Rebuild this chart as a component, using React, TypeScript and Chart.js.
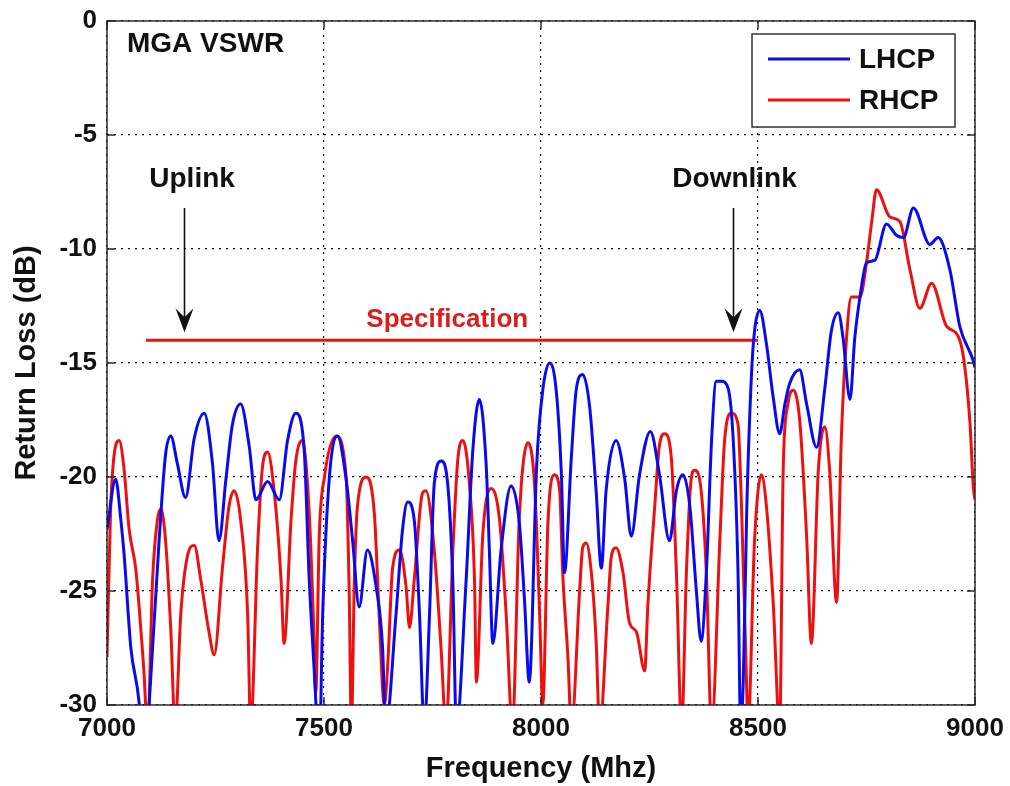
import React, { useEffect, useRef } from "react";
import { Chart, registerables } from "chart.js";

Chart.register(...registerables);

// ---- Data ----
const freqLHCP = [
  7000, 7020, 7032, 7039, 7055, 7074, 7085, 7097, 7120, 7135, 7147, 7162, 7181, 7201, 7224, 7243,
  7258, 7274, 7289, 7308, 7328, 7343, 7370, 7397, 7416, 7435, 7454, 7466, 7481, 7488, 7497, 7512,
  7531, 7551, 7566, 7581, 7600, 7620, 7635, 7642, 7666, 7681, 7693, 7708, 7720, 7731, 7743, 7754,
  7770, 7785, 7797, 7805, 7827, 7843, 7858, 7874, 7881, 7889, 7908, 7931, 7950, 7962, 7973, 7990,
  8004, 8020, 8035, 8047, 8054, 8070, 8081, 8096, 8112, 8127, 8139, 8150, 8173, 8193, 8208, 8227,
  8252, 8273, 8296, 8312, 8327, 8343, 8358, 8369, 8381, 8393, 8404, 8416, 8431, 8443, 8454, 8460,
  8466, 8474, 8485, 8492, 8504, 8519, 8535, 8550, 8562, 8573, 8596, 8612, 8635, 8654, 8669, 8685,
  8696, 8712, 8723, 8735, 8750, 8769, 8796, 8819, 8835, 8858, 8896, 8915, 8942, 8965, 8996, 9000,
];
const rlLHCP = [
  -22.3, -20.1, -21.9, -23.3, -27.5, -29.9, -33.0, -30.0, -22.8, -19.0, -18.2, -19.4, -20.9, -18.3, -17.2, -19.4,
  -22.8, -20.1, -17.7, -16.8, -18.7, -21.0, -20.2, -21.0, -18.4, -17.2, -18.7, -24.5, -29.8, -33.0, -26.0, -20.1,
  -18.2, -20.1, -22.8, -25.7, -23.2, -24.8, -27.5, -31.0, -26.0, -22.3, -21.1, -21.9, -26.0, -31.0, -26.1, -20.3,
  -19.3, -20.3, -24.7, -31.0, -24.7, -18.8, -16.6, -19.6, -23.2, -27.3, -23.2, -20.4, -22.0, -25.4, -29.0, -19.5,
  -16.2, -15.0, -16.2, -19.9, -24.2, -19.1, -16.2, -15.5, -16.9, -20.6, -24.0, -20.6, -18.4, -20.1, -22.6, -19.9,
  -18.0, -19.9, -22.8, -20.6, -19.9, -21.3, -25.0, -27.2, -24.2, -18.4, -15.8, -15.8, -16.1, -18.4, -24.2, -31.0,
  -29.0, -21.5, -15.5, -13.6, -12.7, -14.1, -16.5, -18.1, -16.8, -15.9, -15.3, -16.8, -18.7, -16.1, -13.6, -12.8,
  -13.9, -16.6, -13.9, -12.1, -10.6, -10.5, -8.9, -9.4, -9.5, -8.2, -9.8, -9.5, -10.9, -13.4, -14.9, -15.2,
];
const freqRHCP = [
  7000, 7008, 7016, 7028, 7039, 7051, 7066, 7078, 7089, 7092, 7105, 7116, 7124, 7135, 7147, 7157,
  7170, 7185, 7201, 7216, 7235, 7247, 7266, 7281, 7293, 7308, 7324, 7331, 7347, 7358, 7370, 7385,
  7401, 7408, 7424, 7435, 7450, 7466, 7477, 7481, 7489, 7501, 7528, 7551, 7558, 7563, 7570, 7577,
  7597, 7616, 7627, 7639, 7647, 7658, 7674, 7689, 7697, 7708, 7727, 7735, 7754, 7770, 7781, 7797,
  7808, 7820, 7835, 7847, 7851, 7866, 7885, 7904, 7920, 7934, 7950, 7970, 7985, 7997, 8004, 8016,
  8031, 8043, 8050, 8062, 8070, 8089, 8096, 8104, 8116, 8127, 8135, 8154, 8162, 8173, 8189, 8204,
  8220, 8239, 8246, 8262, 8273, 8285, 8300, 8312, 8324, 8335, 8346, 8354, 8369, 8381, 8393, 8412,
  8423, 8439, 8454, 8462, 8473, 8477, 8492, 8508, 8519, 8535, 8550, 8558, 8569, 8581, 8596, 8612,
  8623, 8639, 8654, 8665, 8681, 8692, 8704, 8715, 8735, 8750, 8762, 8773, 8804, 8827, 8850, 8873,
  8900, 8935, 8965, 8988, 8996, 9000,
];
const rlRHCP = [
  -27.9, -21.6, -19.1, -18.4, -19.6, -22.3, -24.0, -26.7, -30.0, -32.0, -24.5, -21.9, -21.4, -22.8, -26.7, -31.0,
  -26.0, -23.5, -23.0, -24.5, -26.8, -27.8, -24.0, -21.3, -20.6, -21.9, -26.0, -31.0, -23.1, -19.6, -18.9, -20.6,
  -24.5, -27.3, -21.9, -19.3, -18.4, -21.6, -27.0, -29.5, -22.6, -20.0, -18.2, -20.0, -25.0, -31.0, -24.5, -21.3,
  -20.0, -21.6, -26.0, -30.0, -28.2, -24.0, -23.2, -24.8, -26.6, -24.5, -20.7, -20.6, -23.2, -27.6, -31.0, -23.2,
  -19.3, -18.4, -20.3, -24.7, -29.0, -22.5, -20.5, -21.8, -26.1, -31.0, -21.8, -18.5, -20.3, -26.1, -30.0, -22.0,
  -19.9, -20.6, -24.2, -27.9, -31.0, -25.0, -23.1, -22.9, -24.2, -27.2, -31.0, -25.7, -23.5, -23.1, -24.2, -26.4,
  -26.8, -28.5, -25.7, -21.3, -18.6, -18.1, -19.1, -24.2, -31.0, -24.2, -20.1, -19.7, -20.6, -24.2, -31.0, -22.8,
  -18.4, -17.2, -17.7, -21.3, -28.6, -31.0, -22.8, -19.9, -21.2, -25.5, -31.0, -19.7, -16.8, -16.2, -17.5, -22.6,
  -27.3, -19.7, -17.8, -19.7, -25.5, -18.3, -13.9, -12.1, -12.1, -10.6, -8.8, -7.4, -8.6, -8.8, -10.9, -12.6,
  -11.5, -13.4, -14.0, -17.5, -20.4, -21.0,
];
const specFreq = [7090, 8500];
const specLevel = [-14, -14];
const xTicks = [7000, 7500, 8000, 8500, 9000];
const yTicks = [0, -5, -10, -15, -20, -25, -30];
const seriesNames = ["LHCP", "RHCP"];
const seriesColors = ["#0a0aee", "#ee1010"];
const bandLabels = ["Uplink", "Downlink"];
const bandArrowFreq = [7178, 8442];
const bandLabelFreq = [7196, 8446];
const chartTitle = "MGA VSWR";
const specLabel = "Specification";
const specLabelFreq = 7784;

const FONT = '"Liberation Sans", Arial, sans-serif';

const decorPlugin = {
  id: "matlabDecor",
  afterDraw(chart: any) {
    const { ctx, chartArea: a, scales } = chart;
    const x = scales.x;
    const y = scales.y;
    ctx.save();
    ctx.setLineDash([]);
    // frame
    ctx.strokeStyle = "#2a2a2a";
    ctx.lineWidth = 1.5;
    ctx.strokeRect(a.left, a.top, a.right - a.left, a.bottom - a.top);
    // inward ticks
    ctx.beginPath();
    xTicks.forEach((v) => {
      const px = x.getPixelForValue(v);
      ctx.moveTo(px, a.bottom);
      ctx.lineTo(px, a.bottom - 8);
      ctx.moveTo(px, a.top);
      ctx.lineTo(px, a.top + 8);
    });
    yTicks.forEach((v) => {
      const py = y.getPixelForValue(v);
      ctx.moveTo(a.left, py);
      ctx.lineTo(a.left + 8, py);
      ctx.moveTo(a.right, py);
      ctx.lineTo(a.right - 8, py);
    });
    ctx.stroke();

    // title text
    ctx.fillStyle = "#111";
    ctx.font = `bold 28px ${FONT}`;
    ctx.textAlign = "left";
    ctx.textBaseline = "alphabetic";
    ctx.fillText(chartTitle, a.left + 20, a.top + 31);

    // band labels + arrows
    const yTopArrow = y.getPixelForValue(-8.2);
    const yTip = y.getPixelForValue(-13.65);
    const yText = y.getPixelForValue(-7.3);
    bandLabels.forEach((lab, i) => {
      const tx = x.getPixelForValue(bandLabelFreq[i]);
      ctx.textAlign = "center";
      ctx.fillStyle = "#111";
      ctx.font = `bold 28px ${FONT}`;
      ctx.fillText(lab, tx, yText);
      const ax = Math.round(x.getPixelForValue(bandArrowFreq[i])) + 0.5;
      ctx.strokeStyle = "#111";
      ctx.lineWidth = 1.6;
      ctx.beginPath();
      ctx.moveTo(ax, yTopArrow);
      ctx.lineTo(ax, yTip - 12);
      ctx.stroke();
      ctx.beginPath();
      ctx.moveTo(ax, yTip);
      ctx.lineTo(ax - 9, yTip - 24);
      ctx.lineTo(ax, yTip - 15);
      ctx.lineTo(ax + 9, yTip - 24);
      ctx.closePath();
      ctx.fill();
    });

    // specification label
    ctx.fillStyle = "#dd1c1c";
    ctx.font = `bold 26px ${FONT}`;
    ctx.textAlign = "center";
    ctx.fillText(specLabel, x.getPixelForValue(specLabelFreq), y.getPixelForValue(specLevel[0]) - 13);

    // legend
    const lw = 203;
    const lh = 93;
    const lx = a.right - 223;
    const ly = a.top + 13;
    ctx.fillStyle = "#fff";
    ctx.fillRect(lx, ly, lw, lh);
    ctx.strokeStyle = "#333";
    ctx.lineWidth = 1.5;
    ctx.strokeRect(lx, ly, lw, lh);
    seriesNames.forEach((name, i) => {
      const yy = ly + 25 + i * 41;
      ctx.strokeStyle = seriesColors[i];
      ctx.lineWidth = 3;
      ctx.beginPath();
      ctx.moveTo(lx + 16, yy);
      ctx.lineTo(lx + 98, yy);
      ctx.stroke();
      ctx.fillStyle = "#111";
      ctx.font = `bold 28px ${FONT}`;
      ctx.textAlign = "left";
      ctx.textBaseline = "middle";
      ctx.fillText(name, lx + 107, yy + 1);
    });
    ctx.restore();
  },
};

export default function App() {
  const ref = useRef<HTMLCanvasElement | null>(null);
  useEffect(() => {
    if (!ref.current) return;
    const toXY = (xs: number[], ys: number[]) => xs.map((v, i) => ({ x: v, y: ys[i] }));
    const chart = new Chart(ref.current, {
      type: "line",
      data: {
        datasets: [
          {
            label: seriesNames[0],
            data: toXY(freqLHCP, rlLHCP),
            borderColor: seriesColors[0],
            borderWidth: 3,
            pointRadius: 0,
            cubicInterpolationMode: "monotone",
            fill: false,
            clip: 0,
          },
          {
            label: seriesNames[1],
            data: toXY(freqRHCP, rlRHCP),
            borderColor: seriesColors[1],
            borderWidth: 3,
            pointRadius: 0,
            cubicInterpolationMode: "monotone",
            fill: false,
            clip: 0,
          },
          {
            label: "Specification",
            data: toXY(specFreq, specLevel),
            borderColor: "#ee1010",
            borderWidth: 3,
            pointRadius: 0,
            tension: 0,
            fill: false,
            clip: 0,
          },
        ],
      },
      options: {
        animation: false,
        responsive: false,
        devicePixelRatio: 1,
        layout: { padding: { top: 21, right: 35, left: 0, bottom: 0 } },
        plugins: { legend: { display: false }, tooltip: { enabled: false } },
        scales: {
          x: {
            type: "linear",
            min: 7000,
            max: 9000,
            afterBuildTicks: (s: any) => {
              s.ticks = xTicks.map((v) => ({ value: v }));
            },
            afterFit: (s: any) => {
              s.height = 81;
              s.paddingLeft = 0;
              s.paddingRight = 0;
            },
            ticks: {
              color: "#111",
              font: { family: FONT, size: 26, weight: "bold" },
              padding: 8,
              maxRotation: 0,
              autoSkip: false,
              callback: (v: any) => String(v),
            },
            grid: { color: "#111", lineWidth: 1.2, drawTicks: false },
            border: { display: false, dash: [2, 5] },
            title: {
              display: true,
              text: "Frequency (Mhz)",
              color: "#111",
              font: { family: FONT, size: 29, weight: "bold" },
              padding: { top: 4, bottom: 0 },
            },
          },
          y: {
            type: "linear",
            min: -30,
            max: 0,
            afterBuildTicks: (s: any) => {
              s.ticks = yTicks.map((v) => ({ value: v }));
            },
            afterFit: (s: any) => {
              s.width = 107;
              s.paddingTop = 0;
              s.paddingBottom = 0;
            },
            ticks: {
              color: "#111",
              font: { family: FONT, size: 26, weight: "bold" },
              padding: 10,
              autoSkip: false,
              callback: (v: any) => String(v),
            },
            grid: { color: "#111", lineWidth: 1.2, drawTicks: false },
            border: { display: false, dash: [2, 5] },
            title: {
              display: true,
              text: "Return Loss (dB)",
              color: "#111",
              font: { family: FONT, size: 29, weight: "bold" },
              padding: { top: 10, bottom: 0 },
            },
          },
        },
      },
      plugins: [decorPlugin],
    });
    return () => chart.destroy();
  }, []);
  return (
    <div style={{ position: "fixed", left: 0, top: 0, width: 1010, height: 786, background: "#fff" }}>
      <canvas ref={ref} width={1010} height={786} style={{ display: "block" }} />
    </div>
  );
}
